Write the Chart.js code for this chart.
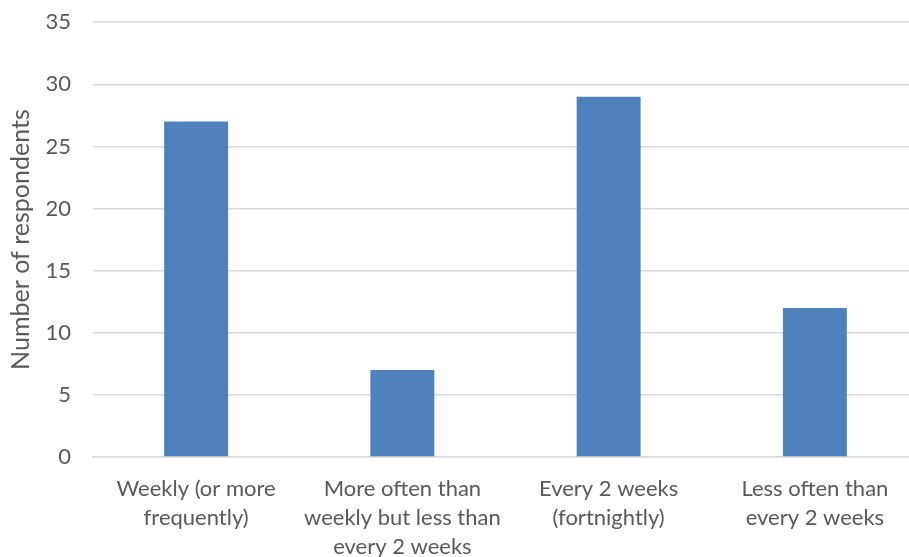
<!DOCTYPE html>
<html>
<head>
<meta charset="utf-8">
<script src="https://cdn.jsdelivr.net/npm/chart.js@4.4.0/dist/chart.umd.min.js"></script>
<style>
  html, body { margin: 0; padding: 0; background: #fff; overflow: hidden; }
  #wrap { width: 918px; height: 557px; overflow: hidden; }
  #chart { display: block; margin-top: -13px; }
</style>
</head>
<body>
<div id="wrap"><canvas id="chart" width="918" height="570"></canvas></div>
<script>
const categories = [
  ["Weekly (or more", "frequently)"],
  ["More often than", "weekly but less than", "every 2 weeks"],
  ["Every 2 weeks", "(fortnightly)"],
  ["Less often than", "every 2 weeks"]
];
const respondents = [27, 7, 29, 12];
const yTicks = [0, 5, 10, 15, 20, 25, 30, 35];

const textColor = "#595959";
const fontFamily = "Lato, 'Open Sans', sans-serif";

const ctx = document.getElementById("chart").getContext("2d");
new Chart(ctx, {
  type: "bar",
  data: {
    labels: categories,
    datasets: [{
      label: "Number of respondents",
      data: respondents,
      backgroundColor: "#4f81bd",
      barPercentage: 0.62,
      categoryPercentage: 0.5
    }]
  },
  options: {
    responsive: false,
    animation: false,
    layout: { padding: { top: 11, right: 0, left: 0, bottom: 0 } },
    plugins: {
      legend: { display: false },
      tooltip: { enabled: false }
    },
    scales: {
      x: {
        grid: { display: false, drawTicks: false },
        border: { color: "#d9d9d9", width: 1.5 },
        ticks: {
          color: textColor,
          font: { family: fontFamily, size: 22, lineHeight: 1.32 },
          padding: 17,
          maxRotation: 0,
          autoSkip: false
        },
        afterFit: (scale) => { scale.height = 100; }
      },
      y: {
        min: 0,
        max: 35,
        afterBuildTicks: (scale) => { scale.ticks = yTicks.map((v) => ({ value: v })); },
        grid: { color: "#d9d9d9", lineWidth: 1.5, drawTicks: false },
        border: { display: false },
        ticks: {
          color: textColor,
          font: { family: fontFamily, size: 22 },
          padding: 22
        },
        title: {
          display: true,
          text: "Number of respondents",
          color: textColor,
          font: { family: fontFamily, size: 25 },
          padding: { top: 6, bottom: 0 }
        },
        afterFit: (scale) => { scale.width = 93; }
      }
    }
  }
});
</script>
</body>
</html>
